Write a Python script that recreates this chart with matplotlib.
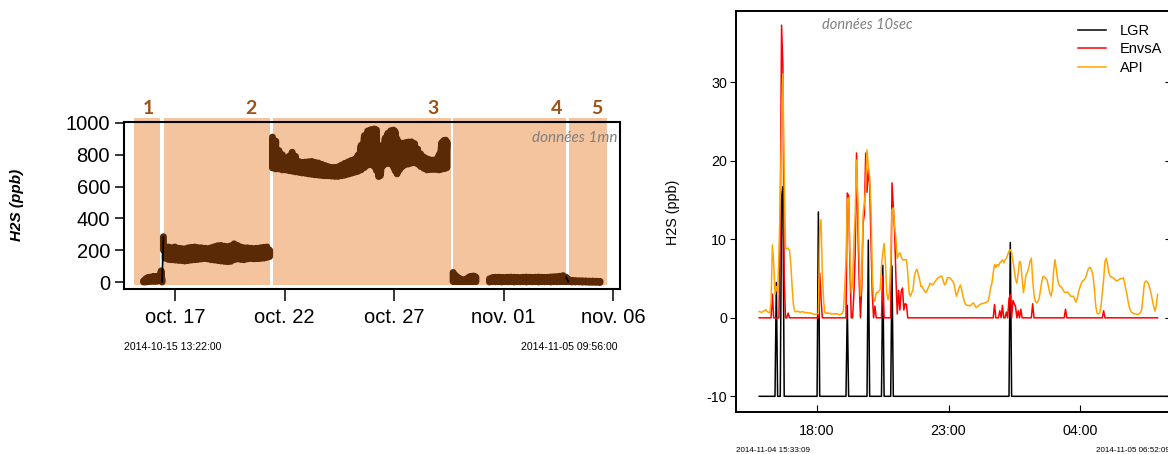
import numpy as np
import pandas as pd
import matplotlib
matplotlib.use("Agg")
import matplotlib.pyplot as plt
import matplotlib.dates as mdates
from matplotlib.patches import Rectangle

plt.rcParams['font.family'] = ['Liberation Sans', 'DejaVu Sans']
plt.rcParams['axes.unicode_minus'] = False

# ------------------------------------------------------------------
# LEFT PANEL DATA (1-min data, read as upper / lower envelope of the noisy trace)
# days counted from 2014-09-30 (Oct d = d, Nov d = 31 + d)
# ------------------------------------------------------------------
seg1_day = [15.56, 15.66, 15.76, 15.86, 15.96, 16.06, 16.16, 16.26, 16.33, 16.37, 16.41]
seg1_top = [5, 20, 28, 30, 33, 35, 33, 38, 40, 70, 20]
seg1_bot = [0, 0, 2, 5, 5, 5, 5, 8, 8, 10, 0]

seg2_day = [16.47, 16.55, 16.70, 16.85, 17.00, 17.15, 17.30, 17.45, 17.60, 17.75, 17.90, 18.05,
            18.20, 18.35, 18.50, 18.65, 18.80, 18.95, 19.10, 19.25, 19.40, 19.55, 19.70, 19.85,
            20.00, 20.15, 20.30, 20.45, 20.60, 20.75, 20.90, 21.05, 21.20, 21.32]
seg2_top = [285, 215, 220, 215, 220, 212, 210, 208, 215, 218, 220, 216,
            215, 212, 210, 215, 222, 228, 230, 225, 222, 228, 240, 230,
            220, 215, 215, 212, 210, 212, 215, 218, 220, 200]
seg2_bot = [200, 150, 142, 140, 138, 136, 135, 132, 135, 138, 140, 142,
            145, 148, 145, 140, 138, 135, 132, 130, 128, 130, 140, 145,
            142, 140, 145, 148, 146, 147, 148, 150, 155, 160]

seg3_day = [21.45, 21.60, 21.75, 21.90, 22.05, 22.20, 22.35, 22.50, 22.65, 22.80, 22.95, 23.10,
            23.25, 23.40, 23.55, 23.70, 23.85, 24.00, 24.15, 24.30, 24.45, 24.60, 24.75, 24.90,
            25.05, 25.20, 25.35, 25.50, 25.65, 25.80, 25.95, 26.10, 26.20, 26.30, 26.38, 26.48,
            26.60, 26.72, 26.85, 26.98, 27.05, 27.14, 27.25, 27.38, 27.52, 27.66, 27.80, 27.94,
            28.08, 28.22, 28.36, 28.50, 28.64, 28.78, 28.92, 29.06, 29.18, 29.28, 29.36, 29.42]
seg3_top = [911, 886, 826, 800, 771, 790, 816, 790, 758, 752, 754, 756,
            758, 752, 748, 740, 732, 725, 720, 720, 724, 735, 746, 755,
            764, 772, 796, 860, 921, 950, 958, 962, 956, 860, 776, 850,
            906, 935, 951, 955, 946, 900, 876, 872, 876, 880, 881, 870,
            836, 805, 786, 775, 768, 766, 771, 800, 876, 890, 892, 880]
seg3_bot = [717, 711, 711, 705, 705, 700, 697, 693, 690, 686, 684, 680,
            677, 674, 672, 670, 668, 668, 666, 664, 664, 668, 672, 678,
            684, 690, 696, 705, 720, 735, 738, 725, 700, 663, 670, 729,
            742, 748, 742, 722, 700, 680, 705, 725, 738, 742, 748, 750,
            742, 726, 715, 705, 708, 708, 708, 705, 710, 714, 716, 720]

seg4a_day = [29.70, 29.78, 29.86, 29.94, 30.02, 30.10, 30.18, 30.26, 30.34, 30.42, 30.50, 30.58,
             30.66, 30.74]
seg4a_top = [60, 45, 35, 25, 20, 15, 12, 12, 22, 30, 35, 37, 37, 30]
seg4a_bot = [3, 2, 2, 2, 2, 2, 2, 2, 2, 2, 2, 2, 2, 2]

seg4b_day = [31.36, 31.50, 31.64, 31.78, 31.92, 32.06, 32.20, 32.34, 32.48, 32.62, 32.76, 32.90,
             33.04, 33.18, 33.32, 33.46, 33.60, 33.74, 33.88, 34.02, 34.16, 34.30, 34.44, 34.58,
             34.72, 34.86]
seg4b_top = [20, 28, 30, 30, 29, 28, 30, 31, 30, 29, 28, 30, 31, 30, 29, 30, 31, 30, 29, 30,
             32, 33, 34, 36, 40, 30]
seg4b_bot = [0, 2, 1, 2, 0, 2, 1, 2, 0, 2, 1, 2, 0, 2, 1, 2, 0, 2, 1, 2, 0, 2, 1, 2, 3, 2]

seg4c_day = [34.96, 35.12, 35.28, 35.44, 35.60, 35.76, 35.92, 36.08, 36.24, 36.41]
seg4c_top = [18, 10, 9, 8, 8, 7, 6, 6, 5, 4]
seg4c_bot = [2, 0, 0, 0, -1, -1, -2, -2, -2, -3]

# shaded periods and their numbers
zone_start = [15.13, 16.50, 21.47, 29.69, 34.99]
zone_end = [16.32, 21.34, 29.60, 34.85, 36.73]
zone_low, zone_high = -20, 1031
zone_label = ['1', '2', '3', '4', '5']
zone_label_day = [15.77, 20.47, 28.78, 34.40, 36.27]
zone_label_ppb = 1094

left_tick_day = [17, 22, 27, 32, 37]
left_tick_label = ['oct. 17', 'oct. 22', 'oct. 27', 'nov. 01', 'nov. 06']
left_yticks = [0, 200, 400, 600, 800, 1000]

# ------------------------------------------------------------------
# RIGHT PANEL DATA (10-sec data, read every 3 minutes from 2014-11-04 15:48)
# ------------------------------------------------------------------
api_h15 = [0.8, 0.75, 0.7, 0.85]
api_h16 = [0.9, 1.05, 0.8, 0.7, 0.65, 1.9, 9.3, 7.0, 3.0, 4.0, 3.2, 8.3, 15.0, 24.8, 31.1, 18.4, 8.9, 8.8, 8.9, 8.6]
api_h17 = [7.0, 4.0, 1.7, 0.85, 0.75, 0.85, 0.8, 0.7, 0.75, 0.8, 0.7, 0.7, 0.65, 0.65, 0.6, 0.65, 0.55, 0.5, 0.45, 0.45]
api_h18 = [0.5, 0.55, 11.2, 12.5, 5.7, 2.1, 0.65, 0.55, 0.65, 0.55, 0.6, 0.45, 0.5, 0.55, 0.45, 0.55, 0.45, 0.4, 0.45, 0.55]
api_h19 = [0.85, 3.6, 7.4, 15.0, 15.3, 8.3, 3.2, 4.4, 9.5, 13.3, 20.1, 15.0, 8.3, 2.8, 5.3, 13.3, 14.6, 16.7, 21.4, 19.3]
api_h20 = [18.0, 14.2, 5.7, 2.3, 2.1, 3.2, 3.2, 3.4, 3.6, 6.6, 8.3, 9.5, 7.0, 3.2, 2.3, 3.2, 6.6, 13.8, 14.0, 11.7]
api_h21 = [10.0, 7.6, 8.1, 8.3, 7.8, 7.4, 7.4, 7.4, 7.4, 5.7, 3.2, 2.75, 3.2, 3.6, 5.3, 5.9, 6.2, 5.5, 4.9, 4.0]
api_h22 = [4.0, 3.6, 3.4, 3.2, 3.6, 4.0, 4.4, 4.3, 4.2, 4.4, 4.7, 4.9, 5.1, 5.2, 5.3, 5.3, 4.7, 4.2, 4.4, 5.1]
api_h23 = [5.1, 5.1, 4.9, 4.7, 4.4, 3.6, 2.75, 3.2, 3.8, 4.2, 3.6, 2.75, 2.1, 1.7, 1.6, 1.6, 1.5, 1.6, 1.8, 1.9]
api_h00 = [1.6, 1.3, 1.4, 1.6, 1.7, 1.8, 1.8, 1.9, 1.9, 2.0, 2.1, 2.75, 3.8, 4.4, 5.7, 6.8, 6.4, 6.8, 6.6, 7.0]
api_h01 = [7.2, 7.4, 7.0, 7.4, 7.6, 8.05, 8.5, 8.7, 8.3, 7.2, 6.1, 4.9, 4.4, 5.7, 7.2, 7.0, 4.9, 3.2, 4.4, 5.5]
api_h02 = [5.8, 6.4, 7.2, 7.6, 4.9, 3.0, 2.1, 1.9, 2.1, 2.5, 3.6, 4.7, 5.3, 5.2, 5.0, 4.8, 4.0, 3.2, 2.75, 3.6]
api_h03 = [6.1, 7.4, 6.1, 4.9, 4.2, 4.0, 3.9, 3.6, 3.3, 3.2, 3.3, 3.2, 3.0, 2.75, 2.75, 2.75, 2.3, 2.0, 2.5, 3.4]
api_h04 = [3.9, 4.4, 4.7, 4.8, 5.0, 5.5, 6.1, 6.4, 6.4, 6.0, 5.3, 3.6, 1.5, 0.6, 0.5, 0.6, 1.5, 3.2, 4.9, 7.2]
api_h05 = [7.6, 6.8, 5.7, 5.3, 5.2, 5.1, 5.0, 4.8, 4.7, 4.8, 4.9, 5.0, 5.0, 5.1, 4.4, 3.6, 2.75, 1.7, 1.1, 0.75]
api_h06 = [0.65, 0.55, 0.5, 0.45, 0.45, 0.5, 0.65, 1.1, 2.75, 4.4, 4.7, 4.6, 4.4, 3.8, 3.2, 2.3, 1.5, 0.85, 1.5, 3.0]

envsa_baseline = 0.0
envsa_times = ['16:18', '16:36', '16:39', '16:42', '16:45', '16:54', '18:06', '18:09',
               '19:09', '19:12', '19:15', '19:24', '19:27', '19:30', '19:33', '19:36',
               '19:42', '19:45', '19:48', '19:51', '19:54', '19:57', '20:00', '20:03', '20:06',
               '20:12', '20:30', '20:51', '20:54', '20:57', '21:00', '21:03', '21:06', '21:09',
               '21:12', '21:15', '21:18', '21:21', '21:24',
               '00:45', '00:57', '01:03', '01:12', '01:18', '01:21', '01:27', '01:30', '01:33',
               '01:39', '01:45', '02:12', '03:27', '04:54']
envsa_vals = [3.0, 12.0, 37.3, 32.0, 5.0, 0.6, 5.7, 2.5,
              15.9, 15.5, 6.6, 3.0, 8.0, 21.0, 12.0, 4.9,
              4.0, 12.0, 13.3, 21.0, 16.0, 19.0, 17.0, 10.0, 3.0,
              1.5, 5.3, 17.2, 14.0, 11.0, 5.0, 0.5, 3.5, 1.0,
              3.4, 3.8, 1.0, 1.8, 1.7,
              1.7, 0.9, 1.6, 0.75, 2.4, 3.0, 2.2, 1.8, 1.4,
              0.9, 1.1, 1.8, 1.1, 0.9]

lgr_baseline = -10.0
lgr_times = ['16:27', '16:39', '16:42', '18:03', '19:09', '19:57', '20:30', '20:51', '01:21']
lgr_vals = [4.5, 15.5, 16.7, 13.5, 1.6, 9.9, 6.7, 6.6, 9.6]

right_tick_times = ['2014-11-04 18:00', '2014-11-04 23:00', '2014-11-05 04:00']
right_tick_label = ['18:00', '23:00', '04:00']
right_yticks = [-10, 0, 10, 20, 30]

# ------------------------------------------------------------------
W, H = 1168, 454
fig = plt.figure(figsize=(W / 100, H / 100), dpi=100)
fig.patch.set_facecolor('white')

def fx(px):
    return px / W

def fy(py):
    return 1 - py / H

ORIGIN = pd.Timestamp('2014-09-30')

def d2t(days):
    return ORIGIN + pd.to_timedelta(np.asarray(days, dtype=float), unit='D')

def band_path(days, top, bot):
    # noisy 1-min trace: the line swings between the upper and lower envelope
    d = np.repeat(np.asarray(days, dtype=float), 2)
    v = np.column_stack([top, bot]).ravel()
    return d2t(d), v

# ---------------- left panel ----------------
axL = fig.add_axes([fx(124), fy(289), fx(620) - fx(124), fy(122) - fy(289)])
brown = '#5A2A06'
zone_col = '#F4C49E'
for s, e in zip(zone_start, zone_end):
    x0 = mdates.date2num(d2t([s])[0])
    x1 = mdates.date2num(d2t([e])[0])
    axL.add_patch(Rectangle((x0, zone_low), x1 - x0, zone_high - zone_low,
                            facecolor=zone_col, edgecolor='none', zorder=0.5, clip_on=False))
for lab, d in zip(zone_label, zone_label_day):
    axL.text(d2t([d])[0], zone_label_ppb, lab, ha='center', va='center', fontsize=14,
             fontweight='bold', color='#9E5214', family=['Lato', 'DejaVu Sans'], clip_on=False)

# thin black pieces of the original trace at the jumps
axL.plot(d2t([seg1_day[-1], seg2_day[0]]), [seg1_bot[-1], seg2_top[0]], color='black', lw=1.3, zorder=3)
axL.plot(d2t([seg4b_day[-1], seg4c_day[0]]), [seg4b_top[-1], seg4c_bot[0]], color='black', lw=1.3, zorder=3)

for dd, tt, bb in [(seg1_day, seg1_top, seg1_bot), (seg2_day, seg2_top, seg2_bot),
                   (seg3_day, seg3_top, seg3_bot), (seg4a_day, seg4a_top, seg4a_bot),
                   (seg4b_day, seg4b_top, seg4b_bot), (seg4c_day, seg4c_top, seg4c_bot)]:
    x, y = band_path(dd, tt, bb)
    axL.plot(x, y, color=brown, lw=5.0, solid_capstyle='round',
             solid_joinstyle='round', zorder=2)

axL.set_xlim(d2t([14.67])[0], d2t([37.32])[0])
axL.set_ylim(-44, 1006)
axL.set_yticks(left_yticks)
axL.set_xticks(d2t(left_tick_day))
axL.set_xticklabels(left_tick_label)
axL.tick_params(axis='y', direction='out', length=6.5, width=1.1, pad=3.5, labelsize=14.5)
axL.tick_params(axis='x', direction='out', length=8.6, width=1.1, pad=5.0, labelsize=14.5)
for sp in axL.spines.values():
    sp.set_linewidth(1.5)
    sp.set_zorder(2.5)

fig.text(fx(617), fy(138), 'données 1mn', ha='right', va='center', fontsize=11,
         style='italic', color='#808080', family=['Lato', 'DejaVu Sans'])
fig.text(fx(17), fy(205), 'H2S (ppb)', rotation=90, ha='center', va='center',
         fontsize=11, fontweight='bold', style='italic')
fig.text(fx(124), fy(347), '2014-10-15 13:22:00', ha='left', va='center', fontsize=7.6)
fig.text(fx(618), fy(347), '2014-11-05 09:56:00', ha='right', va='center', fontsize=7.6)

# ---------------- right panel ----------------
axR = fig.add_axes([fx(736), fy(412), fx(1172) - fx(736), fy(11) - fy(412)])

api = (api_h15 + api_h16 + api_h17 + api_h18 + api_h19 + api_h20 + api_h21 + api_h22 +
       api_h23 + api_h00 + api_h01 + api_h02 + api_h03 + api_h04 + api_h05 + api_h06)
grid = pd.date_range('2014-11-04 15:48', periods=len(api), freq='3min')
lgr_grid = pd.date_range('2014-11-04 15:48', '2014-11-05 07:27', freq='3min')

def clock(hhmm):
    h = int(hhmm.split(':')[0])
    day = '2014-11-04' if h >= 12 else '2014-11-05'
    return pd.Timestamp(day + ' ' + hhmm)

envsa = pd.Series(envsa_baseline, index=grid)
envsa.loc[[clock(t) for t in envsa_times]] = envsa_vals
lgr = pd.Series(lgr_baseline, index=lgr_grid)
lgr.loc[[clock(t) for t in lgr_times]] = lgr_vals

l1, = axR.plot(lgr.index, lgr.values, color='black', lw=1.1)
l2, = axR.plot(envsa.index, envsa.values, color='#FF0000', lw=1.1)
l3, = axR.plot(grid, api, color='#FFA500', lw=1.1)

axR.set_xlim(pd.Timestamp('2014-11-04 14:55'), pd.Timestamp('2014-11-05 07:30'))
axR.set_ylim(-12, 39.1)
axR.set_yticks(right_yticks)
axR.set_xticks(pd.to_datetime(right_tick_times))
axR.set_xticklabels(right_tick_label)
axR.tick_params(axis='y', direction='out', length=4.3, width=0.8, pad=2.2, labelsize=10.3,
                right=True, labelright=False)
for t in axR.yaxis.get_major_ticks():
    t.tick2line.set_marker(matplotlib.lines.TICKLEFT)
    t.tick2line.set_markersize(5)
axR.tick_params(axis='x', direction='in', length=5, width=0.8, pad=8.6, labelsize=10.3)
for sp in axR.spines.values():
    sp.set_linewidth(1.4)

axR.legend([l1, l2, l3], ['LGR', 'EnvsA', 'API'], loc='upper left',
           bbox_to_anchor=(fx(1078), fy(24)), bbox_transform=fig.transFigure,
           frameon=False, borderpad=0, borderaxespad=0, handlelength=1.95,
           handletextpad=0.9, labelspacing=0.3, fontsize=10.5)

fig.text(fx(822), fy(25), 'données 10sec', ha='left', va='center', fontsize=10.5,
         style='italic', color='#808080', family=['Lato', 'DejaVu Sans'])
fig.text(fx(673), fy(212), 'H2S (ppb)', rotation=90, ha='center', va='center', fontsize=10.3)
fig.text(fx(736), fy(451), '2014-11-04 15:33:09', ha='left', va='center', fontsize=5.8)
fig.text(fx(1096), fy(451), '2014-11-05 06:52:09', ha='left', va='center', fontsize=5.8)

fig.savefig('out.png', dpi=100)
